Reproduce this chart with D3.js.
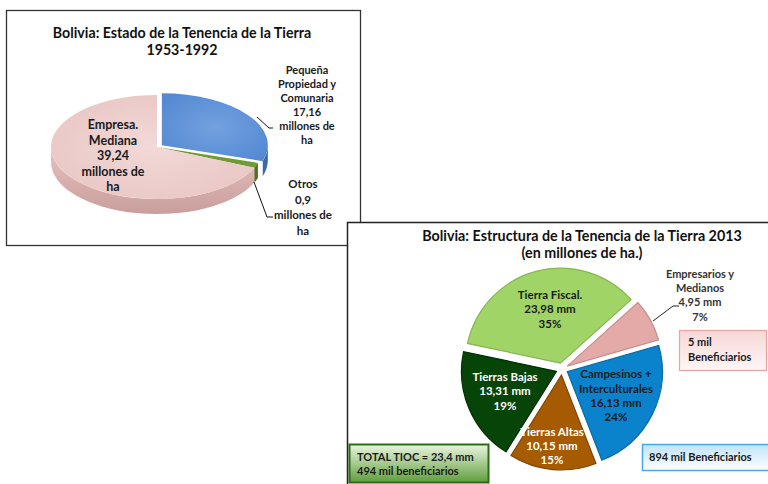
<!DOCTYPE html>
<html>
<head>
<meta charset="utf-8">
<script src="https://cdn.jsdelivr.net/npm/d3@7"></script>
<style>
  body { margin: 0; background: #fff; }
  svg text { font-family: Lato, "Open Sans", sans-serif; font-weight: 700; }
</style>
</head>
<body>
<svg id="chart" width="768" height="484"></svg>
<script>
// ---- chart 1 data (1953-1992) ----
const tenenciaCats = ["Pequeña Propiedad y Comunaria", "Otros", "Empresa. Mediana"];
const tenenciaVals = [17.16, 0.9, 39.24];
const tenenciaLabels = [
  ["Pequeña", "Propiedad y", "Comunaria", "17,16", "millones de", "ha"],
  ["Otros", "0,9", "millones de", "ha"],
  ["Empresa.", "Mediana", "39,24", "millones de", "ha"]
];

// ---- chart 2 data (2013) ----
const estructuraCats = ["Tierra Fiscal.", "Empresarios y Medianos", "Campesinos + Interculturales", "Tierras Altas", "Tierras Bajas"];
const estructuraVals = [23.98, 4.95, 16.13, 10.15, 13.31];
const estructuraPct = ["35%", "7%", "24%", "15%", "19%"];
const estructuraMm = ["23,98 mm", "4,95 mm", "16,13 mm", "10,15 mm", "13,31 mm"];
const beneficiarios = [["5 mil", "Beneficiarios"], ["894 mil Beneficiarios"], ["TOTAL TIOC = 23,4 mm", "494 mil beneficiarios"]];

const svg = d3.select("#chart");
const defs = svg.append("defs");

function radial(id, inner, outer) {
  const g = defs.append("radialGradient").attr("id", id).attr("cx", "50%").attr("cy", "50%").attr("r", "60%");
  g.append("stop").attr("offset", "0%").attr("stop-color", inner);
  g.append("stop").attr("offset", "100%").attr("stop-color", outer);
}
function linear(id, c1, c2) {
  const g = defs.append("linearGradient").attr("id", id).attr("x1", 0).attr("y1", 0).attr("x2", 0).attr("y2", 1);
  g.append("stop").attr("offset", "0%").attr("stop-color", c1);
  g.append("stop").attr("offset", "100%").attr("stop-color", c2);
}
radial("pinkTop", "#f1d9d7", "#e9c6c4");
radial("blueTop", "#74a1df", "#558ad3");
linear("pinkSide", "#e6c2c0", "#c99e9c");
linear("boxPink", "#f7d7d7", "#fff6f6");
linear("boxBlue", "#bfe3fa", "#ffffff");
linear("boxGreen", "#eaf5df", "#5f9e3c");

// =================== CHART 1: 3D pie ===================
svg.append("rect").attr("x", 6.5).attr("y", 10.5).attr("width", 354).attr("height", 235)
  .attr("fill", "#fff").attr("stroke", "#333").attr("stroke-width", 1.3);

const t1 = svg.append("text").attr("text-anchor", "middle").attr("font-size", 14.2).attr("fill", "#111");
t1.append("tspan").attr("x", 182).attr("y", 38).text("Bolivia: Estado de la Tenencia de la Tierra");
t1.append("tspan").attr("x", 182).attr("y", 55).text("1953-1992");

const cx1 = 157, cy1 = 147, rx = 106, ry = 52, depth = 15;
const pie1 = d3.pie().sort(null).value(d => d)(tenenciaVals);
const explode1 = [6, 0, 0];
const topFill = ["url(#blueTop)", "#6f9a35", "url(#pinkTop)"];
const sideFill = ["#3c6aa6", "#4d7322", "url(#pinkSide)"];

const ell = (a, ox, oy, dz) => [ox + rx * Math.sin(a), oy - ry * Math.cos(a) + (dz || 0)];

const g1 = svg.append("g");
const slices1 = pie1.map((p, i) => {
  const mid = (p.startAngle + p.endAngle) / 2;
  const ox = cx1 + explode1[i] * Math.sin(mid);
  const oy = cy1 - explode1[i] * Math.cos(mid) * ry / rx;
  return { p, i, ox, oy };
});
// side walls (front half only)
slices1.forEach(s => {
  const a0 = Math.max(s.p.startAngle, Math.PI / 2), a1 = Math.min(s.p.endAngle, Math.PI * 1.5);
  if (a1 <= a0) return;
  const p0 = ell(a0, s.ox, s.oy), p1 = ell(a1, s.ox, s.oy);
  const q0 = ell(a0, s.ox, s.oy, depth), q1 = ell(a1, s.ox, s.oy, depth);
  const large = (a1 - a0) > Math.PI ? 1 : 0;
  g1.append("path")
    .attr("d", `M${p0}A${rx},${ry} 0 ${large} 1 ${p1}L${q1}A${rx},${ry} 0 ${large} 0 ${q0}Z`)
    .attr("fill", sideFill[s.i]);
});
// top faces
slices1.forEach(s => {
  const p0 = ell(s.p.startAngle, s.ox, s.oy), p1 = ell(s.p.endAngle, s.ox, s.oy);
  const large = (s.p.endAngle - s.p.startAngle) > Math.PI ? 1 : 0;
  g1.append("path")
    .attr("d", `M${s.ox},${s.oy}L${p0}A${rx},${ry} 0 ${large} 1 ${p1}Z`)
    .attr("fill", topFill[s.i]);
});

function block(x, ys, lines, anchor, fill, size) {
  const t = svg.append("text").attr("text-anchor", anchor || "middle").attr("font-size", size || 11).attr("fill", fill || "#1a1a1a");
  lines.forEach((l, k) => t.append("tspan").attr("x", x).attr("y", ys[k]).text(l));
  return t;
}
block(307, [74, 88, 102, 116, 130, 144], tenenciaLabels[0], "middle", "#1a1a1a", 11);
block(303, [188, 204, 219, 235], tenenciaLabels[1], "middle", "#1a1a1a", 11.5);
block(113, [129, 145, 160, 176, 191], tenenciaLabels[2], "middle", "#1a1a1a", 12.5);

const leader = d3.line();
svg.append("path").attr("d", leader([[257, 117], [269, 128], [273, 128]])).attr("fill", "none").attr("stroke", "#111").attr("stroke-width", 1);
svg.append("path").attr("d", leader([[254, 182], [267, 217], [273, 217]])).attr("fill", "none").attr("stroke", "#111").attr("stroke-width", 1);

// =================== CHART 2: exploded pie ===================
svg.append("rect").attr("x", 347.5).attr("y", 222.5).attr("width", 430).attr("height", 270)
  .attr("fill", "#fff").attr("stroke", "#222").attr("stroke-width", 1.5);

const t2 = svg.append("text").attr("text-anchor", "middle").attr("font-size", 14.3).attr("fill", "#111");
t2.append("tspan").attr("x", 582).attr("y", 241).text("Bolivia: Estructura de la Tenencia de la Tierra 2013");
t2.append("tspan").attr("x", 582).attr("y", 258).text("(en millones de ha.)");

const cx2 = 562, cy2 = 369, r2 = 95, explode2 = 6;
const start2 = -78 * Math.PI / 180;
const pie2 = d3.pie().sort(null).startAngle(start2).endAngle(start2 + 2 * Math.PI)(estructuraVals);
const arc2 = d3.arc().innerRadius(0).outerRadius(r2);
const fill2 = ["#a0d466", "#e3aaa8", "#0a83cc", "#a65b00", "#064408"];
const stroke2 = ["#86b552", "#c98e8c", "#0a6aa6", "#7f4500", "#032e04"];

const g2 = svg.append("g").attr("transform", `translate(${cx2},${cy2})`);
g2.selectAll("path").data(pie2).join("path")
  .attr("transform", d => {
    const m = (d.startAngle + d.endAngle) / 2;
    return `translate(${explode2 * Math.sin(m)},${-explode2 * Math.cos(m)})`;
  })
  .attr("d", arc2)
  .attr("fill", (d, i) => fill2[i])
  .attr("stroke", (d, i) => stroke2[i])
  .attr("stroke-width", 1.2);

// labels inside / outside
const lab2 = estructuraCats.map((c, i) => {
  if (i === 2) return ["Campesinos +", "Interculturales", estructuraMm[i], estructuraPct[i]];
  if (i === 1) return ["Empresarios y", "Medianos", estructuraMm[i], estructuraPct[i]];
  return [c, estructuraMm[i], estructuraPct[i]];
});
block(550, [299, 313, 328], lab2[0], "middle", "#1a1a1a", 11.5);
block(700, [278, 292, 306, 321], lab2[1], "middle", "#333", 11);
block(616, [378, 393, 407, 421], lab2[2], "middle", "#1a1a1a", 11.5);
block(552, [436, 450, 464], lab2[3], "middle", "#fff", 11.5);
block(505, [381, 395, 410], lab2[4], "middle", "#fff", 11.5);

svg.append("path").attr("d", leader([[653, 321], [673, 306], [679, 306]])).attr("fill", "none").attr("stroke", "#222").attr("stroke-width", 1);

// beneficiary boxes
svg.append("rect").attr("x", 679.5).attr("y", 330.5).attr("width", 87).attr("height", 40)
  .attr("fill", "url(#boxPink)").attr("stroke", "#e8a4a4").attr("stroke-width", 1.2);
block(688, [346, 361], beneficiarios[0], "start", "#1a1a1a", 11);

svg.append("rect").attr("x", 642.5).attr("y", 444.5).attr("width", 140).attr("height", 26)
  .attr("fill", "url(#boxBlue)").attr("stroke", "#4aa8e6").attr("stroke-width", 1.5);
block(649, [461], beneficiarios[1], "start", "#1a1a1a", 11);

svg.append("rect").attr("x", 349.5).attr("y", 444.5).attr("width", 139).attr("height", 38)
  .attr("fill", "url(#boxGreen)").attr("stroke", "#2d6a1a").attr("stroke-width", 2);
block(357, [461, 475], beneficiarios[2], "start", "#1a1a1a", 11);
</script>
</body>
</html>
